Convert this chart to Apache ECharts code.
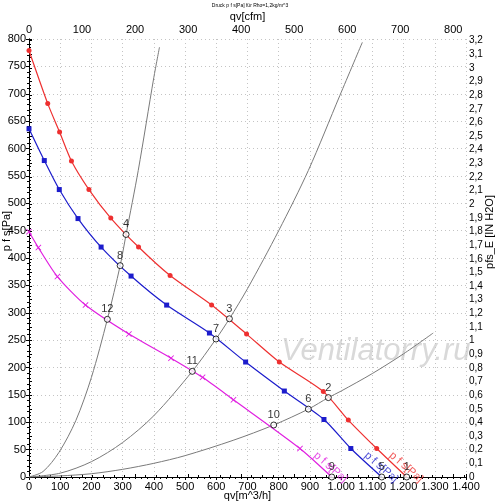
<!DOCTYPE html>
<html>
<head>
<meta charset="utf-8">
<script src="https://cdn.jsdelivr.net/npm/echarts@6/dist/echarts.min.js"></script>
<style>
  html, body { margin: 0; padding: 0; background: #fff; }
  #chart { width: 500px; height: 504px; }
</style>
</head>
<body>
<div id="chart"></div>
<script>
// fan curves, [qv m^3/h, p Pa]
var redCurve = [[0,779],[60,682],[98,630],[136,577],[192,525],[262,473],[351,420],[452,368],[585,314],[697,261],[802,210],[943,156],[1023,104],[1114,52],[1210,0]]
var blueCurve = [[0,636],[49,578],[97,525],[157,472],[231,420],[327,367],[441,314],[578,263],[694,210],[818,157],[945,105],[1031,52],[1130,0]]
var pinkCurve = [[0,448],[30,419],[91,366],[181,314],[320,261],[455,217],[556,182],[655,141],[868,52],[970,0]]

// system curves (grey)
var sysA = [[0,0],[45,10],[96,45],[150,103],[200,182],[251,288],[292,386],[311,443],[350,560],[400,730],[418,785]]
var sysB = [[0,0],[100,7],[200,28],[300,63],[400,112],[523,193],[599,252],[642,289],[700,344],[800,450],[895,560],[996,697],[1068,794]]
var sysC = [[0,0],[100,2],[200,6],[300,14],[400,25],[500,39],[654,67],[784,95],[895,124],[959,145],[1000,157],[1100,189],[1200,225],[1295,263]]

// operating points
var opNames = ['1','2','3','4','5','6','7','8','9','10','11','12']
var opPoints = [[1210,0],[959,145],[642,289],[311,443],[1130,0],[895,124],[599,252],[292,386],[970,0],[784,95],[523,193],[251,288]]

// where the curve captions sit
var captionColors = ['#ee3030', '#1c1ccc', '#e020e0']
var captionPts = [[1208,18],[1128,18],[966,18]]

var FONT = 'Liberation Sans'
var myChart = echarts.init(document.getElementById('chart'))

function thousands(v) {
    if (v >= 1000) return Math.floor(v / 1000) + '.' + String(v % 1000).padStart(3, '0')
    return String(v)
}

function fanSeries(name, pts, color, symbol, size) {
    return {
        name: name,
        type: 'line',
        smooth: 0.25,
        data: pts.map(function (p, i) {
            return i === pts.length - 1 ? { value: p, symbol: 'none' } : p
        }),
        symbol: symbol,
        symbolSize: size,
        showAllSymbol: true,
        lineStyle: { color: color, width: 1.2 },
        itemStyle: { color: color },
        z: 3
    }
}

function sysSeries(pts) {
    return {
        type: 'line', smooth: 0.3, symbol: 'none',
        data: pts, lineStyle: { color: '#7a7a7a', width: 1 }, z: 2
    }
}

var dotted = { show: true, lineStyle: { color: '#c4c4c4', type: [1, 3], width: 1 } }
var blackLine = { show: true, lineStyle: { color: '#000', width: 1 } }
var nameFont = { fontFamily: FONT, fontSize: 11, color: '#000' }

option = {
    animation: false,
    title: {
        text: 'Druck p f s[Pa] für Rho=1,2kg/m^3',
        left: 'center', top: -2,
        textStyle: { fontFamily: FONT, fontSize: 5, fontWeight: 'normal', color: '#000' }
    },
    grid: { left: 29, right: 34, top: 39, bottom: 27, containLabel: false, outerBoundsMode: 'none' },
    xAxis: [{
        type: 'value', position: 'bottom', min: 0, max: 1400, interval: 100,
        name: 'qv[m^3/h]', nameLocation: 'middle', nameGap: 13, nameMoveOverlap: false,
        nameTextStyle: nameFont,
        axisLine: blackLine,
        axisTick: { length: 3, lineStyle: { color: '#000' } },
        minorTick: { show: true, splitNumber: 5, length: 2, lineStyle: { color: '#000' } },
        axisLabel: { fontFamily: FONT, fontSize: 11, color: '#000', margin: 4, formatter: thousands },
        splitLine: dotted
    }, {
        type: 'value', position: 'top', min: 0, max: 1400 / 1.699, interval: 100,
        name: 'qv[cfm]', nameLocation: 'middle', nameGap: 17, nameMoveOverlap: false,
        nameTextStyle: nameFont,
        axisLine: blackLine,
        axisTick: { length: 3, lineStyle: { color: '#000' } },
        minorTick: { show: true, splitNumber: 5, length: 2, lineStyle: { color: '#000' } },
        axisLabel: { fontFamily: FONT, fontSize: 11, color: '#000', margin: 4, showMaxLabel: false,
            formatter: function (v) { return v % 100 === 0 ? String(v) : '' } },
        splitLine: { show: false }
    }],
    yAxis: [{
        type: 'value', position: 'left', min: 0, max: 800, interval: 50,
        name: 'p f s[Pa]', nameLocation: 'middle', nameGap: 17, nameRotate: 90, nameMoveOverlap: false,
        nameTextStyle: { fontFamily: FONT, fontSize: 11, color: '#000', padding: [0, 0, 0, 54] },
        axisLine: blackLine,
        axisTick: { length: 3, lineStyle: { color: '#000' } },
        minorTick: { show: true, splitNumber: 5, length: 2, lineStyle: { color: '#000' } },
        axisLabel: { fontFamily: FONT, fontSize: 11, color: '#000', margin: 3 },
        splitLine: dotted
    }, {
        type: 'value', position: 'right', min: 0, max: 800 / 249.09, interval: 0.1,
        name: 'pfs_E [IN H2O]', nameLocation: 'middle', nameGap: 18, nameRotate: 90, nameMoveOverlap: false,
        nameTextStyle: { fontFamily: FONT, fontSize: 11, color: '#000', padding: [0, 0, 0, 52] },
        axisLine: blackLine,
        axisTick: { length: 3, lineStyle: { color: '#000' } },
        minorTick: { show: true, splitNumber: 4, length: 2, lineStyle: { color: '#000' } },
        axisLabel: { fontFamily: FONT, fontSize: 10, color: '#000', margin: 3, showMaxLabel: false,
            formatter: function (v) {
                var t = Math.round(v * 10) / 10
                if (Math.abs(t - v) > 1e-6) return ''
                return String(t).replace('.', ',')
            } },
        splitLine: { show: false }
    }],
    graphic: [{
        type: 'text', left: 281, top: 336, z: 0,
        style: { text: 'Ventilatorry.ru', font: 'italic 31px "Liberation Sans"', fill: '#d9d9d9' }
    }],
    series: [
        sysSeries(sysA), sysSeries(sysB), sysSeries(sysC),
        fanSeries('red', redCurve, '#ee3030', 'circle', 5),
        fanSeries('blue', blueCurve, '#1c1ccc', 'rect', 5),
        fanSeries('pink', pinkCurve, '#e020e0',
            'path://M0,1L1,0L5,4L9,0L10,1L6,5L10,9L9,10L5,6L1,10L0,9L4,5Z', 6),
        {
            type: 'scatter', z: 5,
            data: opPoints.map(function (p, i) { return { value: p, name: opNames[i] } }),
            symbol: 'circle', symbolSize: 6,
            itemStyle: { color: '#fff', borderColor: '#000', borderWidth: 1 },
            label: { show: true, position: 'top', distance: 1, formatter: '{b}',
                fontFamily: FONT, fontSize: 11, color: '#000' }
        },
        {
            type: 'scatter', z: 4, symbol: 'circle', symbolSize: 1, silent: true,
            itemStyle: { color: 'rgba(0,0,0,0)' },
            data: captionPts.map(function (p, i) {
                return { value: p, label: { color: captionColors[i] } }
            }),
            label: { show: true, position: 'inside', formatter: 'p f s[Pa]', rotate: -41,
                fontFamily: FONT, fontSize: 11 }
        }
    ]
}
myChart.setOption(option)
</script>
</body>
</html>
